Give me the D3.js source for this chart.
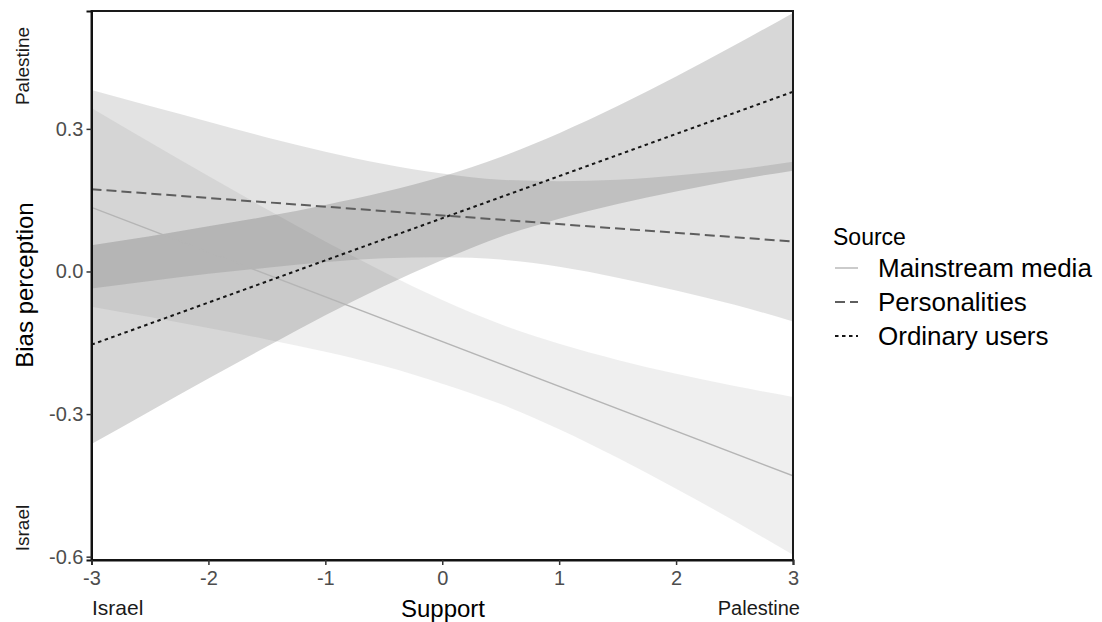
<!DOCTYPE html>
<html>
<head>
<meta charset="utf-8">
<script src="https://cdn.jsdelivr.net/npm/d3@7"></script>
<style>
  body { margin: 0; background: #fff; }
  svg { font-family: "Liberation Sans", Arial, sans-serif; }
</style>
</head>
<body>
<div id="area"></div>
<script>
var xs = [-3, -2.5, -2, -1.5, -1, -0.5, 0, 0.5, 1, 1.5, 2, 2.5, 3];

var sources = ['Mainstream media', 'Personalities', 'Ordinary users'];

// fitted lines (read at the two ends)
var fitMainstream = [0.135, -0.430];
var fitPersonalities = [0.173, 0.063];
var fitOrdinary = [-0.154, 0.378];

// confidence band edges at each xs
var lowMainstream = [-0.074, -0.096, -0.119, -0.143, -0.169, -0.199, -0.236, -0.279, -0.332, -0.392, -0.457, -0.525, -0.596];
var highMainstream = [0.344, 0.272, 0.201, 0.131, 0.063, -0.001, -0.060, -0.111, -0.152, -0.186, -0.215, -0.241, -0.264];
var lowPersonalities = [-0.036, -0.020, -0.005, 0.008, 0.020, 0.028, 0.030, 0.025, 0.010, -0.013, -0.040, -0.070, -0.105];
var highPersonalities = [0.382, 0.348, 0.315, 0.282, 0.252, 0.226, 0.206, 0.193, 0.190, 0.193, 0.202, 0.214, 0.231];
var lowOrdinary = [-0.363, -0.294, -0.225, -0.158, -0.092, -0.031, 0.024, 0.073, 0.111, 0.142, 0.168, 0.192, 0.212];
var highOrdinary = [0.055, 0.074, 0.095, 0.116, 0.140, 0.167, 0.200, 0.241, 0.291, 0.348, 0.410, 0.476, 0.544];

var xTicks = [-3, -2, -1, 0, 1, 2, 3];
var yTicks = [-0.6, -0.3, 0.0, 0.3];

var width = 1102, height = 622;
var panel_left = 91.5, panel_right = 793, panel_top = 11, panel_bottom = 560;

var line_colors = ['#b5b5b5', '#5e5e5e', '#151515'],
    fill_colors = ['#9a9a9a', '#5a5a5a', '#2a2a2a'],
    fill_opacity = [0.16, 0.17, 0.19],
    dashes = [null, '10,5', '3.5,3.5'],
    widths = [1.4, 2, 2];

var bands = [
  {low: lowMainstream, high: highMainstream, fit: fitMainstream},
  {low: lowPersonalities, high: highPersonalities, fit: fitPersonalities},
  {low: lowOrdinary, high: highOrdinary, fit: fitOrdinary}
];

var svg = d3.select('#area').append('svg')
    .attr('width', width)
    .attr('height', height);

var x = d3.scaleLinear().domain([-3, 3]).range([panel_left, panel_right]);
var y = d3.scaleLinear().domain([-0.607, 0.548]).range([panel_bottom, panel_top]);

svg.append('clipPath').attr('id', 'panel')
  .append('rect')
    .attr('x', panel_left).attr('y', panel_top)
    .attr('width', panel_right - panel_left).attr('height', panel_bottom - panel_top);

var plot = svg.append('g').attr('clip-path', 'url(#panel)');

var area = d3.area()
    .x(function(d) { return x(d.x); })
    .y0(function(d) { return y(d.lo); })
    .y1(function(d) { return y(d.hi); })
    .curve(d3.curveMonotoneX);

bands.forEach(function(b, i) {
  var pts = xs.map(function(v, j) { return {x: v, lo: b.low[j], hi: b.high[j]}; });
  plot.append('path')
      .datum(pts)
      .attr('d', area)
      .attr('fill', fill_colors[i])
      .attr('fill-opacity', fill_opacity[i])
      .attr('stroke', 'none');
});

bands.forEach(function(b, i) {
  plot.append('line')
      .attr('x1', x(-3)).attr('y1', y(b.fit[0]))
      .attr('x2', x(3)).attr('y2', y(b.fit[1]))
      .attr('stroke', line_colors[i])
      .attr('stroke-width', widths[i])
      .attr('stroke-dasharray', dashes[i]);
});

// panel frame
svg.append('rect')
    .attr('x', panel_left).attr('y', panel_top)
    .attr('width', panel_right - panel_left).attr('height', panel_bottom - panel_top)
    .attr('fill', 'none')
    .attr('stroke', '#1a1a1a')
    .attr('stroke-width', 2);

// axes
var yAxis = svg.append('g')
    .attr('transform', 'translate(' + panel_left + ',0)')
    .call(d3.axisLeft(y).tickValues(yTicks).tickSize(5).tickPadding(3));
var xAxis = svg.append('g')
    .attr('transform', 'translate(0,' + panel_bottom + ')')
    .call(d3.axisBottom(x).tickValues(xTicks).tickSize(5).tickPadding(3));

[yAxis, xAxis].forEach(function(a) {
  a.select('.domain').attr('stroke', '#111').attr('stroke-width', 2);
  a.selectAll('.tick line').attr('stroke', '#333').attr('stroke-width', 1.5);
  a.selectAll('.tick text')
      .attr('fill', '#4d4d4d')
      .style('font-size', '20px')
      .style('font-family', '"Liberation Sans", Arial, sans-serif');
});
xAxis.selectAll('.tick text').attr('dy', '0.85em');

// plain hyphens for the minus signs, as in the source
yAxis.selectAll('.tick text').text(function(d) { return d.toFixed(1); });
xAxis.selectAll('.tick text').text(function(d) { return String(d); });

// axis titles and end labels
svg.append('text')
    .attr('x', 443).attr('y', 617)
    .attr('text-anchor', 'middle')
    .style('font-size', '24px')
    .attr('fill', '#000')
    .text('Support');
svg.append('text')
    .attr('x', 92).attr('y', 615)
    .style('font-size', '21px')
    .attr('fill', '#1a1a1a')
    .text('Israel');
svg.append('text')
    .attr('x', 800).attr('y', 615)
    .attr('text-anchor', 'end')
    .style('font-size', '20px')
    .attr('fill', '#1a1a1a')
    .text('Palestine');

svg.append('text')
    .attr('transform', 'translate(33,285) rotate(-90)')
    .attr('text-anchor', 'middle')
    .style('font-size', '24px')
    .attr('fill', '#000')
    .text('Bias perception');
svg.append('text')
    .attr('transform', 'translate(29,66) rotate(-90)')
    .attr('text-anchor', 'middle')
    .style('font-size', '19px')
    .attr('fill', '#1a1a1a')
    .text('Palestine');
svg.append('text')
    .attr('transform', 'translate(29,528) rotate(-90)')
    .attr('text-anchor', 'middle')
    .style('font-size', '19px')
    .attr('fill', '#1a1a1a')
    .text('Israel');

// legend
var legend = svg.append('g').attr('transform', 'translate(833,0)');
legend.append('text')
    .attr('x', 0).attr('y', 245)
    .style('font-size', '23px')
    .attr('fill', '#000')
    .text('Source');

sources.forEach(function(s, i) {
  var cy = 268 + i * 34;
  legend.append('line')
      .attr('x1', 2).attr('x2', 25)
      .attr('y1', cy).attr('y2', cy)
      .attr('stroke', line_colors[i])
      .attr('stroke-width', widths[i])
      .attr('stroke-dasharray', dashes[i]);
  legend.append('text')
      .attr('x', 45).attr('y', cy + 9)
      .style('font-size', '26px')
      .attr('fill', '#000')
      .text(s);
});
</script>
</body>
</html>
